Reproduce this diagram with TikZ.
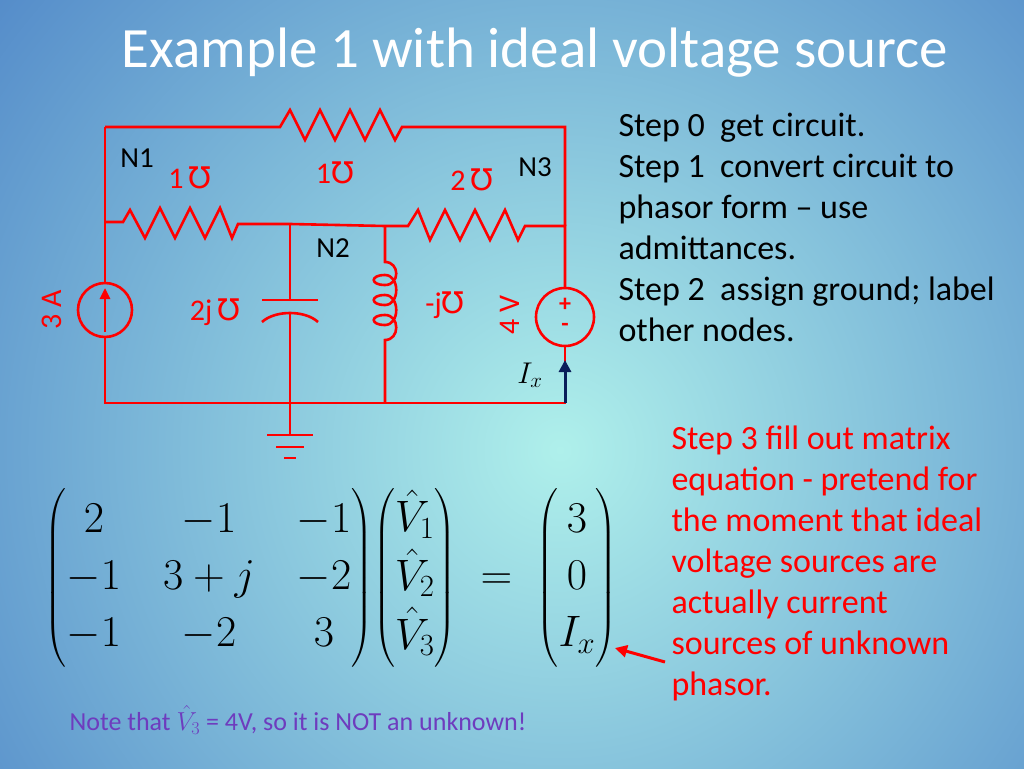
\documentclass[tikz,border=0pt]{standalone}
\usepackage{fix-cm}
\usepackage{amsmath}
\usepackage{fontspec}
\setmainfont{Carlito}
\newfontfamily\mhofont{DejaVu Sans}
\usetikzlibrary{arrows.meta}
\newcommand{\mhosym}{{\mhofont\char"2127}}
\definecolor{bgin}{RGB}{175,240,235}
\definecolor{bgout}{RGB}{80,135,200}
\definecolor{ixblue}{RGB}{10,30,90}
\definecolor{notepurple}{RGB}{110,60,190}
\begin{document}
\begin{tikzpicture}[x=1pt,y=-1pt,
wire/.style={red,line width=2.6pt},
rlabel/.style={red,font=\fontsize{30}{32}\selectfont},
nlabel/.style={black,font=\fontsize{29}{32}\selectfont},
steptext/.style={align=left,anchor=north west,font=\fontsize{34}{41}\selectfont}]

% background
\useasboundingbox (0,0) rectangle (1024,768);
\begin{scope}
\clip (0,0) rectangle (1024,768);
\shade[inner color=bgin,outer color=bgout] (560,450) circle (760);
\end{scope}

\node (title) at (535,53) [font=\fontsize{57}{60}\selectfont,white] {Example 1 with ideal voltage source};

% nodes of the circuit
\coordinate (tl) at (105,127);
\coordinate (tr) at (565,127);
\coordinate (ml) at (105,222);
\coordinate (n2) at (290,224);
\coordinate (n2b) at (385,226);
\coordinate (mr) at (565,226);
\coordinate (bl) at (105,403);
\coordinate (g) at (290,403);
\coordinate (b2) at (385,403);
\coordinate (br) at (565,403);

% wires and resistors
\draw[wire] (tl) -- (260,127) -- (280,127) -- (290,110) -- (305,140) -- (320,110) -- (335,140) -- (350,110) -- (365,140) -- (380,110) -- (395,140) -- (402,127) -- (tr) -- (mr);
\draw[wire] (ml) -- (123,222) -- (130,210) -- (145,238) -- (160,208) -- (175,238) -- (190,208) -- (205,238) -- (220,208) -- (232,238) -- (238,224) -- (n2) -- (n2b) -- (408,226) -- (418,210) -- (430,240) -- (445,210) -- (460,240) -- (475,210) -- (490,240) -- (505,210) -- (518,240) -- (525,226) -- (mr) -- (565,287);
\draw[wire] (tl) -- (105,283);
\draw[wire] (105,337) -- (bl) -- (br) -- (565,347);

% current source
\node (isrc) at (105,310) [circle,draw=red,line width=2.6pt,minimum size=54pt,inner sep=0pt] {};
\draw[red,line width=2.6pt,-{Triangle[length=11pt,width=10pt]}] (105,332) -- (105,288);
\node (ia) at (52,310) [rlabel,rotate=90] {3 A};

% capacitor
\draw[wire] (n2) -- (290,300);
\draw[wire] (262,300) -- (318,300);
\draw[wire] (262,322) .. controls (275,310) and (305,310) .. (318,322);
\draw[wire] (290,313) -- (g);
\node (cl) at (215,312) [rlabel] {2j\,\mhosym};

% inductor
\draw[wire] (n2b) -- (385,262)
  .. controls (400,262) and (400,285) .. (385,285) .. controls (370,285) and (370,275) .. (385,275)
  .. controls (400,275) and (400,305) .. (385,305) .. controls (370,305) and (370,295) .. (385,295)
  .. controls (400,295) and (400,325) .. (385,325) .. controls (370,325) and (370,315) .. (385,315)
  .. controls (400,315) and (400,340) .. (385,340) -- (b2);
\node (ll) at (445,305) [rlabel] {-j\mhosym};

% voltage source
\node (vsrc) at (565,317) [circle,draw=red,line width=2.6pt,minimum size=58pt,inner sep=0pt] {};
\node (vp) at (565,305) [red,font=\fontsize{24}{26}\selectfont\bfseries] {+};
\node (vm) at (565,327) [red,font=\fontsize{24}{26}\selectfont\bfseries] {-};
\node (vl) at (510,315) [rlabel,rotate=90] {4 V};

% ground
\draw[wire] (g) -- (290,435);
\draw[wire] (267,435) -- (313,435);
\draw[wire] (276,447) -- (304,447);
\draw[wire] (284,458) -- (296,458);

% Ix arrow
\draw[ixblue,line width=3pt,-{Triangle[length=12pt,width=12pt]}] (br) -- (565,360);
\node (ix) at (530,375) [font=\fontsize{30}{32}\selectfont] {$I_x$};

% labels
\node (lab1) at (137,158) [nlabel] {N1};
\node (lab2) at (333,248) [nlabel] {N2};
\node (lab3) at (535,167) [nlabel] {N3};
\node (r1) at (190,178) [rlabel] {1\,\mhosym};
\node (r2) at (335,173) [rlabel] {1\mhosym};
\node (r3) at (472,180) [rlabel] {2\,\mhosym};

% steps
\node (steps) at (615,110) [steptext] {Step 0\ \ get circuit.\\Step 1\ \ convert circuit to\\phasor form -- use\\admittances.\\Step 2\ \ assign ground; label\\other nodes.};
\node (step3) at (668,422) [steptext,red] {Step 3 fill out matrix\\equation - pretend for\\the moment that ideal\\voltage sources are\\actually current\\sources of unknown\\phasor.};

% matrix equation
\node (eq) at (331,578) [font=\fontsize{44}{57}\selectfont] {\setlength{\arraycolsep}{21pt}$\begin{pmatrix}2 & -1 & -1\\ -1 & 3+j & -2\\ -1 & -2 & 3\end{pmatrix}\!\begin{pmatrix}\hat{V}_1\\ \hat{V}_2\\ \hat{V}_3\end{pmatrix}\;=\;\begin{pmatrix}3\\ 0\\ I_x\end{pmatrix}$};
\coordinate (arr) at (665,662);
\draw[red,line width=3pt,-{Triangle[length=12pt,width=12pt]}] (arr) -- (615,648);

\node (note) at (298,720) [font=\fontsize{26}{28}\selectfont,notepurple] {Note that $\hat{V}_3$ = 4V, so it is NOT an unknown!};
\end{tikzpicture}
\end{document}
